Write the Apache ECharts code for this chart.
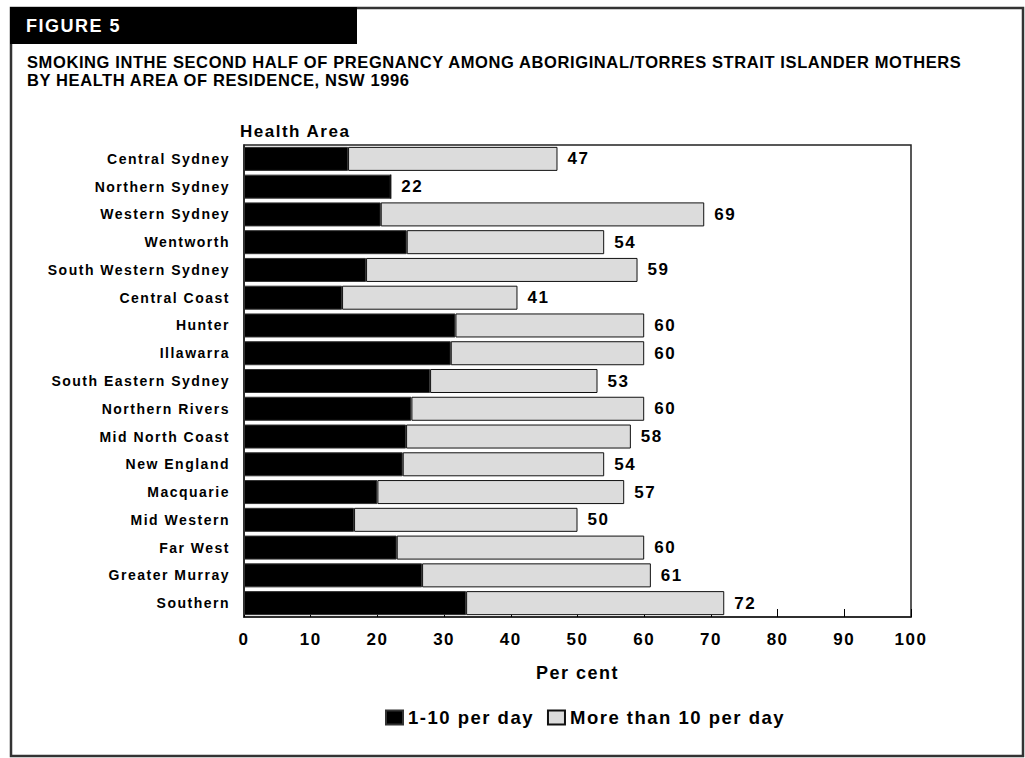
<!DOCTYPE html>
<html>
<head>
<meta charset="utf-8">
<script src="https://cdn.jsdelivr.net/npm/echarts@6/dist/echarts.min.js"></script>
<style>
  html, body { margin: 0; padding: 0; background: #fff; }
  #chart { width: 1025px; height: 758px; }
  /* wide letter spacing on the chart text, tighter spacing on the two-line heading */
  #chart svg text { letter-spacing: 1.5px; }
  #chart svg text[style*="16.5px"] { letter-spacing: 0.6px; }
</style>
</head>
<body>
<div id="chart"></div>
<script>
// Health areas, top to bottom
const areas = [
  'Central Sydney', 'Northern Sydney', 'Western Sydney', 'Wentworth',
  'South Western Sydney', 'Central Coast', 'Hunter', 'Illawarra',
  'South Eastern Sydney', 'Northern Rivers', 'Mid North Coast', 'New England',
  'Macquarie', 'Mid Western', 'Far West', 'Greater Murray', 'Southern'
];
// Per cent smoking 1-10 cigarettes per day
const lightSmokers = [15.6, 22, 20.5, 24.4, 18.3, 14.7, 31.7, 31.0, 27.9, 25.1, 24.3, 23.8, 20.0, 16.5, 22.9, 26.7, 33.3];
// Per cent smoking at all (both groups together)
const allSmokers = [47, 22, 69, 54, 59, 41, 60, 60, 53, 60, 58, 54, 57, 50, 60, 61, 72];
// Axis ticks
const tickValues = [0, 10, 20, 30, 40, 50, 60, 70, 80, 90, 100];

// More than 10 per day = total minus the 1-10 group
const heavySmokers = allSmokers.map((t, i) => +(t - lightSmokers[i]).toFixed(1));

const FONT = 'Liberation Sans, Arial, sans-serif';
const chart = echarts.init(document.getElementById('chart'), null, { renderer: 'svg' });

chart.setOption({
  animation: false,
  backgroundColor: '#fff',
  textStyle: { fontFamily: FONT, color: '#000' },
  graphic: [
    { type: 'rect', shape: { x: 11, y: 8, width: 1012, height: 748 },
      style: { fill: 'none', stroke: '#333', lineWidth: 2.5 }, silent: true },
    { type: 'rect', shape: { x: 10, y: 7, width: 347, height: 37 },
      style: { fill: '#000' }, silent: true },
    { type: 'text', x: 26, y: 26,
      style: { text: 'FIGURE 5', fill: '#fff', font: 'bold 18px ' + FONT, textVerticalAlign: 'middle' } },
    { type: 'text', x: 27, y: 62,
      style: { text: 'SMOKING INTHE SECOND HALF OF PREGNANCY AMONG ABORIGINAL/TORRES STRAIT ISLANDER MOTHERS',
               fill: '#000', font: 'bold 16.5px ' + FONT, textVerticalAlign: 'middle' } },
    { type: 'text', x: 27, y: 80,
      style: { text: 'BY HEALTH AREA OF RESIDENCE, NSW 1996',
               fill: '#000', font: 'bold 16.5px ' + FONT, textVerticalAlign: 'middle' } },
    { type: 'text', x: 240, y: 131,
      style: { text: 'Health Area', fill: '#000', font: 'bold 17px ' + FONT, textVerticalAlign: 'middle' } }
  ],
  legend: {
    left: 385, top: 708, padding: 0,
    itemWidth: 17, itemHeight: 14, itemGap: 31,
    icon: 'rect',
    textStyle: { fontFamily: FONT, fontWeight: 'bold', fontSize: 18.5, color: '#000' },
    data: ['1-10 per day', 'More than 10 per day']
  },
  grid: {
    left: 244, top: 145, width: 667, height: 472,
    show: true, borderColor: '#222', borderWidth: 1.5, backgroundColor: '#fff'
  },
  xAxis: {
    type: 'value', min: tickValues[0], max: tickValues[tickValues.length - 1], interval: 10,
    name: 'Per cent', nameLocation: 'middle', nameGap: 47,
    nameTextStyle: { fontFamily: FONT, fontWeight: 'bold', fontSize: 18, color: '#000' },
    axisLine: { show: true, lineStyle: { color: '#222', width: 1.5 } },
    axisTick: { show: true, inside: true, length: 8, lineStyle: { color: '#000', width: 1 } },
    splitLine: { show: false },
    axisLabel: { fontFamily: FONT, fontWeight: 'bold', fontSize: 17, color: '#000', margin: 14 }
  },
  yAxis: {
    type: 'category', data: areas, inverse: true,
    axisLine: { show: true, lineStyle: { color: '#222', width: 1.5 } },
    axisTick: { show: false },
    axisLabel: { fontFamily: FONT, fontWeight: 'bold', fontSize: 14, color: '#000', margin: 14 }
  },
  series: [
    {
      name: '1-10 per day', type: 'bar', stack: 'smoke',
      barCategoryGap: '13.5%',
      itemStyle: { color: '#000', borderColor: '#333', borderWidth: 1 },
      data: lightSmokers
    },
    {
      name: 'More than 10 per day', type: 'bar', stack: 'smoke',
      barCategoryGap: '13.5%',
      itemStyle: { color: '#dcdcdc', borderColor: '#111', borderWidth: 1 },
      label: {
        show: true, position: 'right', distance: 10,
        fontFamily: FONT, fontWeight: 'bold', fontSize: 17, color: '#000',
        formatter: p => String(allSmokers[p.dataIndex])
      },
      data: heavySmokers
    }
  ]
});
</script>
</body>
</html>
